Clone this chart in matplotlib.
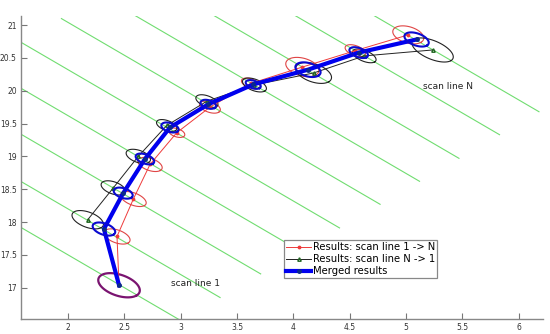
import numpy as np
import matplotlib
matplotlib.use("Agg")
import matplotlib.pyplot as plt

# scan lines: lower-right end points (lines run up-left with slope -1)
scan_end_x = [3.00, 3.35, 3.71, 4.06, 4.41, 4.77, 5.12, 5.47, 5.83, 6.18]
scan_end_y = [16.50, 16.85, 17.21, 17.56, 17.91, 18.27, 18.62, 18.97, 19.33, 19.68]
scan_length = 4.0

# Results scan line 1 -> N (red)
red_x = [2.453, 2.435, 2.580, 2.728, 2.965, 3.260, 3.622, 4.080, 4.550, 5.020]
red_y = [17.037, 17.780, 18.350, 18.877, 19.360, 19.750, 20.110, 20.360, 20.610, 20.850]
red_a = [0.22, 0.14, 0.14, 0.13, 0.085, 0.11, 0.10, 0.17, 0.11, 0.16]
red_b = [0.14, 0.085, 0.08, 0.08, 0.055, 0.07, 0.06, 0.12, 0.065, 0.11]

# Results scan line N -> 1 (black)
blk_x = [2.175, 2.402, 2.624, 2.876, 3.233, 3.655, 4.180, 4.630, 5.236]
blk_y = [18.035, 18.520, 19.000, 19.470, 19.840, 20.087, 20.270, 20.530, 20.620]
blk_a = [0.17, 0.13, 0.13, 0.11, 0.12, 0.13, 0.19, 0.13, 0.23]
blk_b = [0.10, 0.08, 0.08, 0.065, 0.07, 0.075, 0.12, 0.07, 0.12]

# Merged results (blue)
mrg_x = [2.453, 2.319, 2.490, 2.683, 2.905, 3.245, 3.644, 4.130, 4.580, 5.094]
mrg_y = [17.037, 17.893, 18.440, 18.960, 19.440, 19.793, 20.095, 20.320, 20.580, 20.780]
mrg_a = [0.22, 0.12, 0.10, 0.10, 0.09, 0.08, 0.08, 0.13, 0.10, 0.13]
mrg_b = [0.14, 0.075, 0.065, 0.06, 0.06, 0.055, 0.05, 0.09, 0.06, 0.08]

legend_labels = ["Results: scan line 1 -> N", "Results: scan line N -> 1", "Merged results"]
x_ticks = [2, 2.5, 3, 3.5, 4, 4.5, 5, 5.5, 6]
y_ticks = [17, 17.5, 18, 18.5, 19, 19.5, 20, 20.5, 21]

fig = plt.figure(figsize=(5.5, 3.34), dpi=100)
ax = fig.add_axes([0.0382, 0.0449, 0.9491, 0.9071])

u = np.array([1.0, -1.0]) / np.sqrt(2)
v = np.array([1.0, 1.0]) / np.sqrt(2)
t = np.linspace(0, 2 * np.pi, 120)

def ellipse(cx, cy, a, b, **kw):
    ex = cx + a * np.cos(t) * u[0] + b * np.sin(t) * v[0]
    ey = cy + a * np.cos(t) * u[1] + b * np.sin(t) * v[1]
    ax.plot(ex, ey, **kw)

for ex, ey in zip(scan_end_x, scan_end_y):
    d = scan_length / np.sqrt(2)
    ax.plot([ex - d, ex], [ey + d, ey], color="#70dd70", lw=0.8, zorder=1)

# ellipses
for i in range(1, len(red_x)):
    ellipse(red_x[i], red_y[i], red_a[i], red_b[i], color="#e04545", lw=0.8, zorder=2)
for i in range(len(blk_x)):
    ellipse(blk_x[i], blk_y[i], blk_a[i], blk_b[i], color="#222222", lw=0.8, zorder=2)
ellipse(mrg_x[0], mrg_y[0], mrg_a[0], mrg_b[0], color="#7a1470", lw=1.6, zorder=3)
for i in range(1, len(mrg_x)):
    ellipse(mrg_x[i], mrg_y[i], mrg_a[i], mrg_b[i], color="#0a0ad0", lw=1.5, zorder=5)

l1, = ax.plot(red_x, red_y, color="#ee3b3b", lw=0.7, marker=".", ms=3.5, zorder=3)
l2, = ax.plot(blk_x, blk_y, color="#222222", lw=0.7, marker="^", ms=2.5,
              mfc="none", mec="#226622", zorder=3)
l3, = ax.plot(mrg_x, mrg_y, color="#0000ee", lw=3.0, marker=".", ms=5,
              mfc="#0a2a8a", mec="#0a2a8a", zorder=4)

ax.text(2.91, 17.06, "scan line 1", fontsize=6.5, va="center", ha="left", color="#222222")
ax.text(5.15, 20.07, "scan line N", fontsize=6.5, va="center", ha="left", color="#222222")

ax.set_xlim(1.583, 6.216)
ax.set_ylim(16.523, 21.137)
ax.set_xticks(x_ticks)
ax.set_yticks(y_ticks)
ax.set_xticklabels([f"{x:g}" for x in x_ticks])
ax.set_yticklabels([f"{y:g}" for y in y_ticks])
ax.tick_params(direction="in", length=4, width=0.8, color="#777777",
               labelsize=5.5, labelcolor="#333333", pad=3)
for s in ["top", "right"]:
    ax.spines[s].set_visible(False)
for s in ["left", "bottom"]:
    ax.spines[s].set_color("#888888")
    ax.spines[s].set_linewidth(1.0)

leg = ax.legend([l1, l2, l3], legend_labels, loc="upper left",
                bbox_to_anchor=(284 / 550, 1 - 240 / 334), bbox_transform=fig.transFigure,
                fontsize=7.2, handlelength=2.5, handletextpad=0.2, borderpad=0.2,
                labelspacing=0.22, fancybox=False, framealpha=1, borderaxespad=0)
leg.get_frame().set_edgecolor("#888888")
leg.get_frame().set_linewidth(0.9)

fig.savefig("out.png", dpi=100)
